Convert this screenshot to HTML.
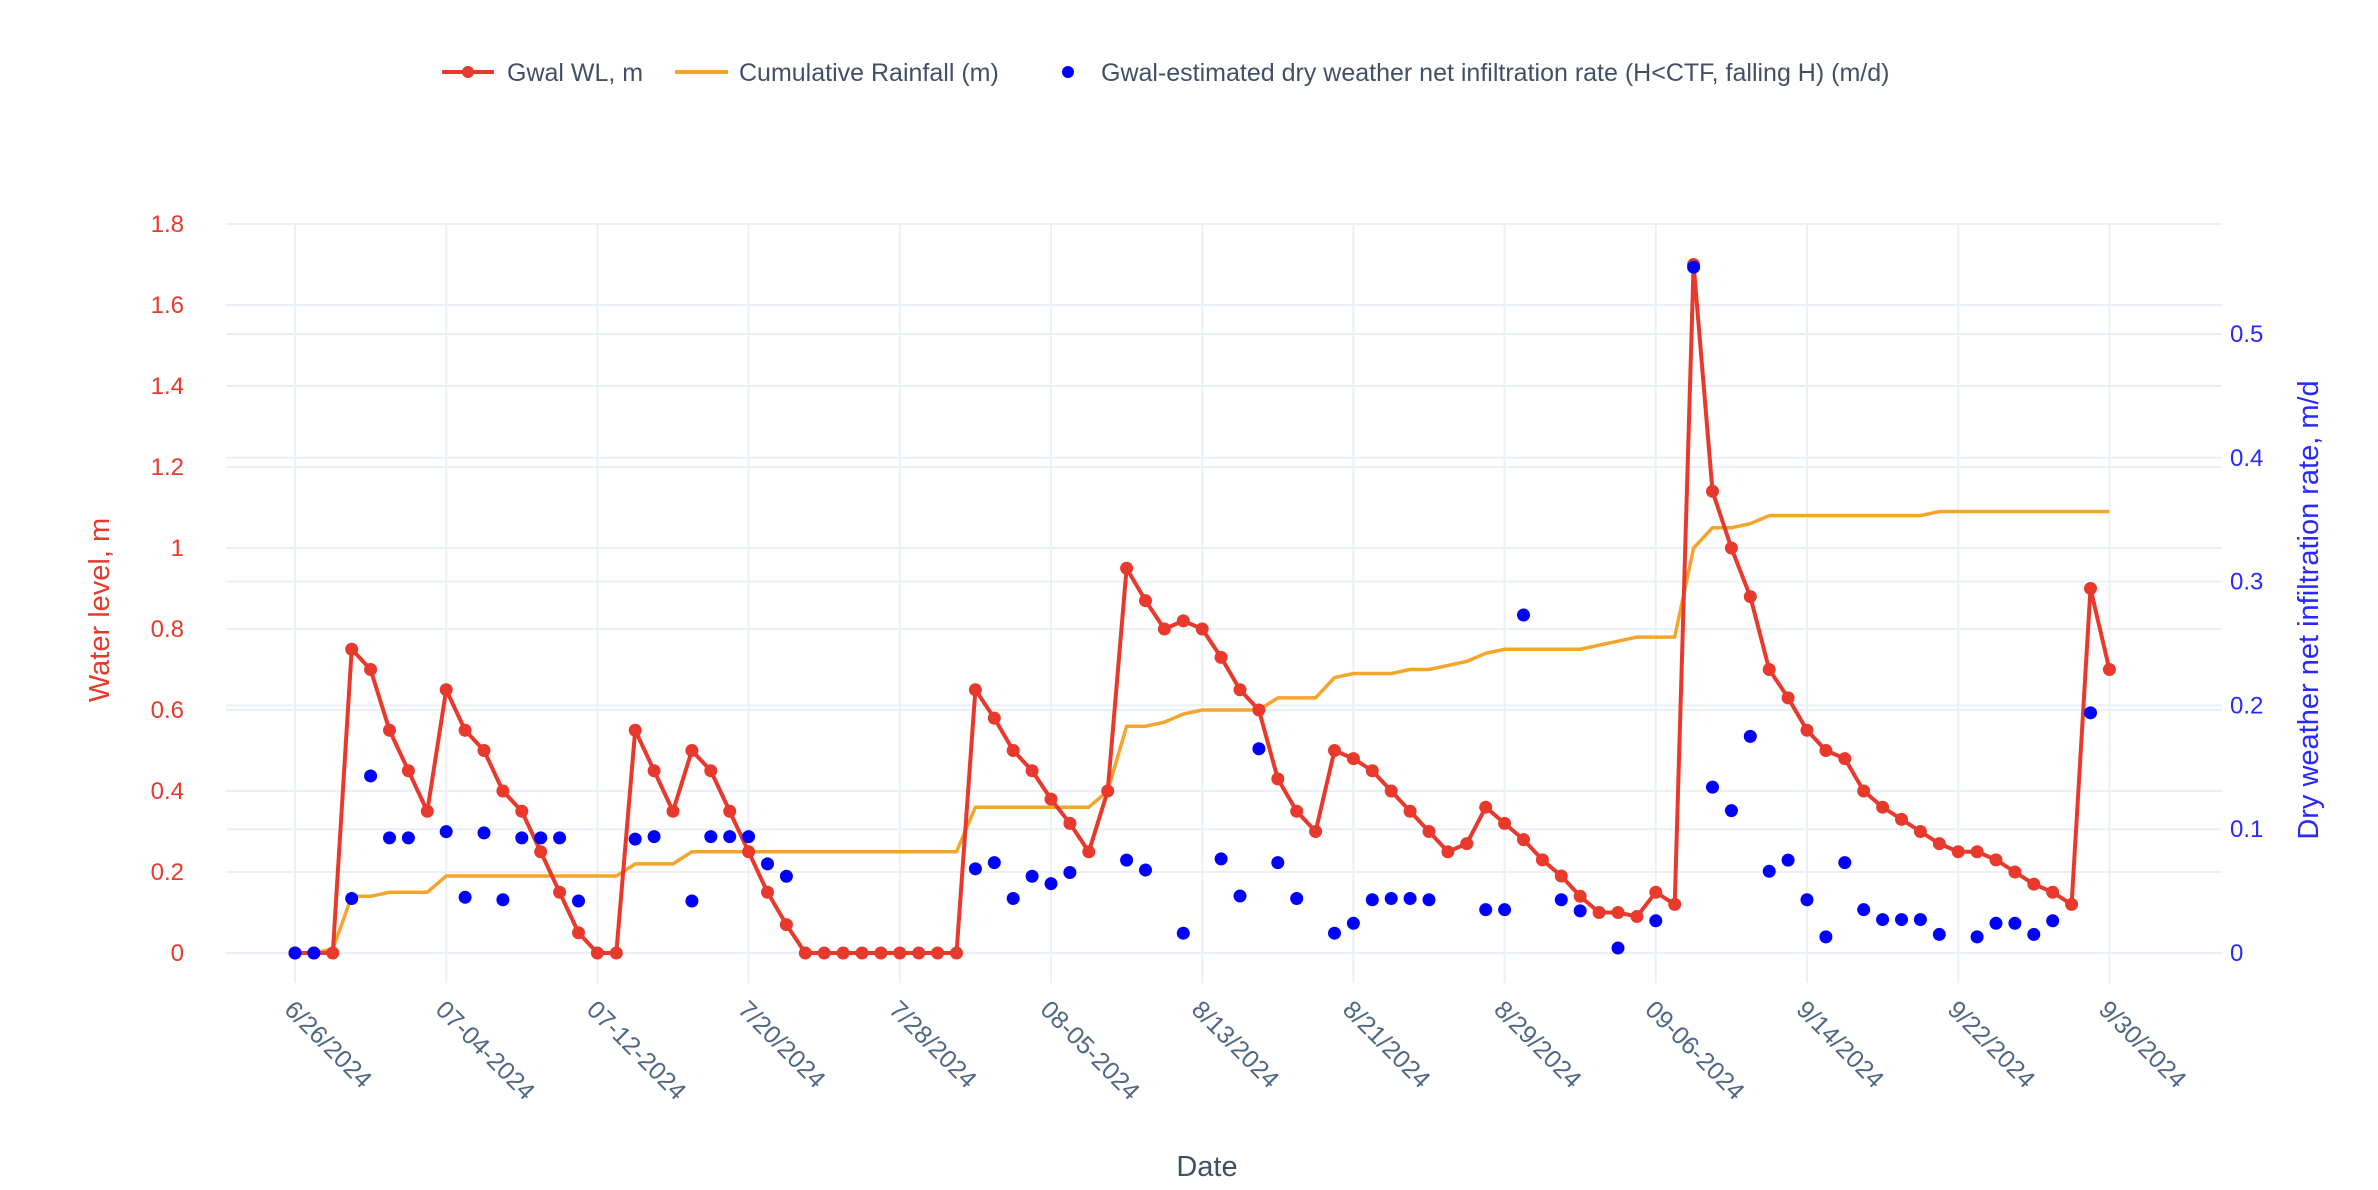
<!DOCTYPE html>
<html><head><meta charset="utf-8"><style>
html,body{margin:0;padding:0;background:#fff;}
svg{display:block;font-family:"Liberation Sans",sans-serif;}
</style></head><body>
<svg id="chart" width="2378" height="1190" xmlns="http://www.w3.org/2000/svg">
<g id="grid"></g>
<g id="axes"></g>
<g id="series"></g>
<g id="legend">
  <g>
    <line x1="442" y1="72" x2="494" y2="72" stroke="#e8392c" stroke-width="4"/>
    <circle cx="468" cy="72" r="6" fill="#e8392c"/>
    <text x="507" y="81" font-size="25" fill="#444f66">Gwal WL, m</text>
  </g>
  <g>
    <line x1="675" y1="72" x2="728" y2="72" stroke="#f5a42c" stroke-width="4"/>
    <text x="739" y="81" font-size="25" fill="#444f66">Cumulative Rainfall (m)</text>
  </g>
  <g>
    <circle cx="1068" cy="72" r="6" fill="#0000ff"/>
    <text x="1101" y="81" font-size="25" fill="#444f66">Gwal-estimated dry weather net infiltration rate (H&lt;CTF, falling H) (m/d)</text>
  </g>
</g>
<text x="1207" y="1176" font-size="29" fill="#444f66" text-anchor="middle">Date</text>
<text transform="translate(109,610) rotate(-90)" font-size="29" fill="#e8392c" text-anchor="middle">Water level, m</text>
<text transform="translate(2318,610) rotate(-90)" font-size="29" fill="#2828ff" text-anchor="middle">Dry weather net infiltration rate, m/d</text>
</svg>
<script>
const wl = [0,0,0,0.75,0.70,0.55,0.45,0.35,0.65,0.55,0.50,0.40,0.35,0.25,0.15,0.05,0,0,0.55,0.45,0.35,0.50,0.45,0.35,0.25,0.15,0.07,0,0,0,0,0,0,0,0,0,0.65,0.58,0.50,0.45,0.38,0.32,0.25,0.40,0.95,0.87,0.80,0.82,0.80,0.73,0.65,0.60,0.43,0.35,0.30,0.50,0.48,0.45,0.40,0.35,0.30,0.25,0.27,0.36,0.32,0.28,0.23,0.19,0.14,0.10,0.10,0.09,0.15,0.12,1.70,1.14,1.00,0.88,0.70,0.63,0.55,0.50,0.48,0.40,0.36,0.33,0.30,0.27,0.25,0.25,0.23,0.20,0.17,0.15,0.12,0.90,0.70];
const rain = [0,0,0.01,0.14,0.14,0.15,0.15,0.15,0.19,0.19,0.19,0.19,0.19,0.19,0.19,0.19,0.19,0.19,0.22,0.22,0.22,0.25,0.25,0.25,0.25,0.25,0.25,0.25,0.25,0.25,0.25,0.25,0.25,0.25,0.25,0.25,0.36,0.36,0.36,0.36,0.36,0.36,0.36,0.40,0.56,0.56,0.57,0.59,0.60,0.60,0.60,0.60,0.63,0.63,0.63,0.68,0.69,0.69,0.69,0.70,0.70,0.71,0.72,0.74,0.75,0.75,0.75,0.75,0.75,0.76,0.77,0.78,0.78,0.78,1.00,1.05,1.05,1.06,1.08,1.08,1.08,1.08,1.08,1.08,1.08,1.08,1.08,1.09,1.09,1.09,1.09,1.09,1.09,1.09,1.09,1.09,1.09];
const infDays = [0,1,3,4,5,6,8,9,10,11,12,13,14,15,18,19,21,22,23,24,25,26,36,37,38,39,40,41,44,45,47,49,50,51,52,53,55,56,57,58,59,60,63,64,65,67,68,70,72,74,75,76,77,78,79,80,81,82,83,84,85,86,87,89,90,91,92,93,95];
const infRate = [0,0,0.044,0.143,0.093,0.093,0.098,0.045,0.097,0.043,0.093,0.093,0.093,0.042,0.092,0.094,0.042,0.094,0.094,0.094,0.072,0.062,0.068,0.073,0.044,0.062,0.056,0.065,0.075,0.067,0.016,0.076,0.046,0.165,0.073,0.044,0.016,0.024,0.043,0.044,0.044,0.043,0.035,0.035,0.273,0.043,0.034,0.004,0.026,0.554,0.134,0.115,0.175,0.066,0.075,0.043,0.013,0.073,0.035,0.027,0.027,0.027,0.015,0.013,0.024,0.024,0.015,0.026,0.194];
const xTickDays = [0,8,16,24,32,40,48,56,64,72,80,88,96];
const xTickLabels = ["6/26/2024","07-04-2024","07-12-2024","7/20/2024","7/28/2024","08-05-2024","8/13/2024","8/21/2024","8/29/2024","09-06-2024","9/14/2024","9/22/2024","9/30/2024"];
const yLeftTicks = [0,0.2,0.4,0.6,0.8,1,1.2,1.4,1.6,1.8];
const yRightTicks = [0,0.1,0.2,0.3,0.4,0.5];

const NS="http://www.w3.org/2000/svg";
const PL=226, PR=2222, PT=224, PB=983;
const x = d => 295 + d*18.9;
const yL = v => 953 - v*405;
const yR = v => 953 - v*1238;
function mk(tag, attrs, parent){const e=document.createElementNS(NS,tag);for(const k in attrs)e.setAttribute(k,attrs[k]);parent.appendChild(e);return e;}
const grid=document.getElementById('grid'), axes=document.getElementById('axes'), ser=document.getElementById('series');

xTickDays.forEach((d,i)=>{
  const g=mk('line',{x1:x(d),x2:x(d),y1:PT,y2:PB,stroke:'#ebf0f8','stroke-width':2},grid);
  
  
  const t=mk('text',{transform:`translate(${x(d)-12},${PB+28}) rotate(45)`,'font-size':25,fill:'#506784'},axes);
  t.textContent=xTickLabels[i];
  
  
});
yLeftTicks.forEach(v=>{
  const g=mk('line',{x1:PL,x2:PR,y1:yL(v),y2:yL(v),stroke:'#ebf0f8','stroke-width':2},grid);
  
  
  const t=mk('text',{x:184,y:yL(v)+8,'font-size':24,fill:'#e8392c','text-anchor':'end'},axes);
  t.textContent=String(v);
  
  
});
yRightTicks.forEach(v=>{
  const g=mk('line',{x1:PL,x2:PR,y1:yR(v),y2:yR(v),stroke:'#ebf0f8','stroke-width':2},grid);
  
  
  const t=mk('text',{x:2230,y:yR(v)+8,'font-size':24,fill:'#2828ff'},axes);
  t.textContent=String(v);
  
  
});

const rp=mk('polyline',{points:rain.map((v,i)=>x(i)+','+yL(v)).join(' '),fill:'none',stroke:'#f5a42c','stroke-width':3.5,'stroke-linejoin':'round'},ser);


const wp=mk('polyline',{points:wl.map((v,i)=>x(i)+','+yL(v)).join(' '),fill:'none',stroke:'#e8392c','stroke-width':4,'stroke-linejoin':'round'},ser);


wl.forEach((v,i)=>{
  const c=mk('circle',{cx:x(i),cy:yL(v),r:6.5,fill:'#e8392c'},ser);
  
  
});
infDays.forEach((d,i)=>{
  const c=mk('circle',{cx:x(d),cy:yR(infRate[i]),r:6.5,fill:'#0000ff'},ser);
  
  
});
</script>
</body></html>
